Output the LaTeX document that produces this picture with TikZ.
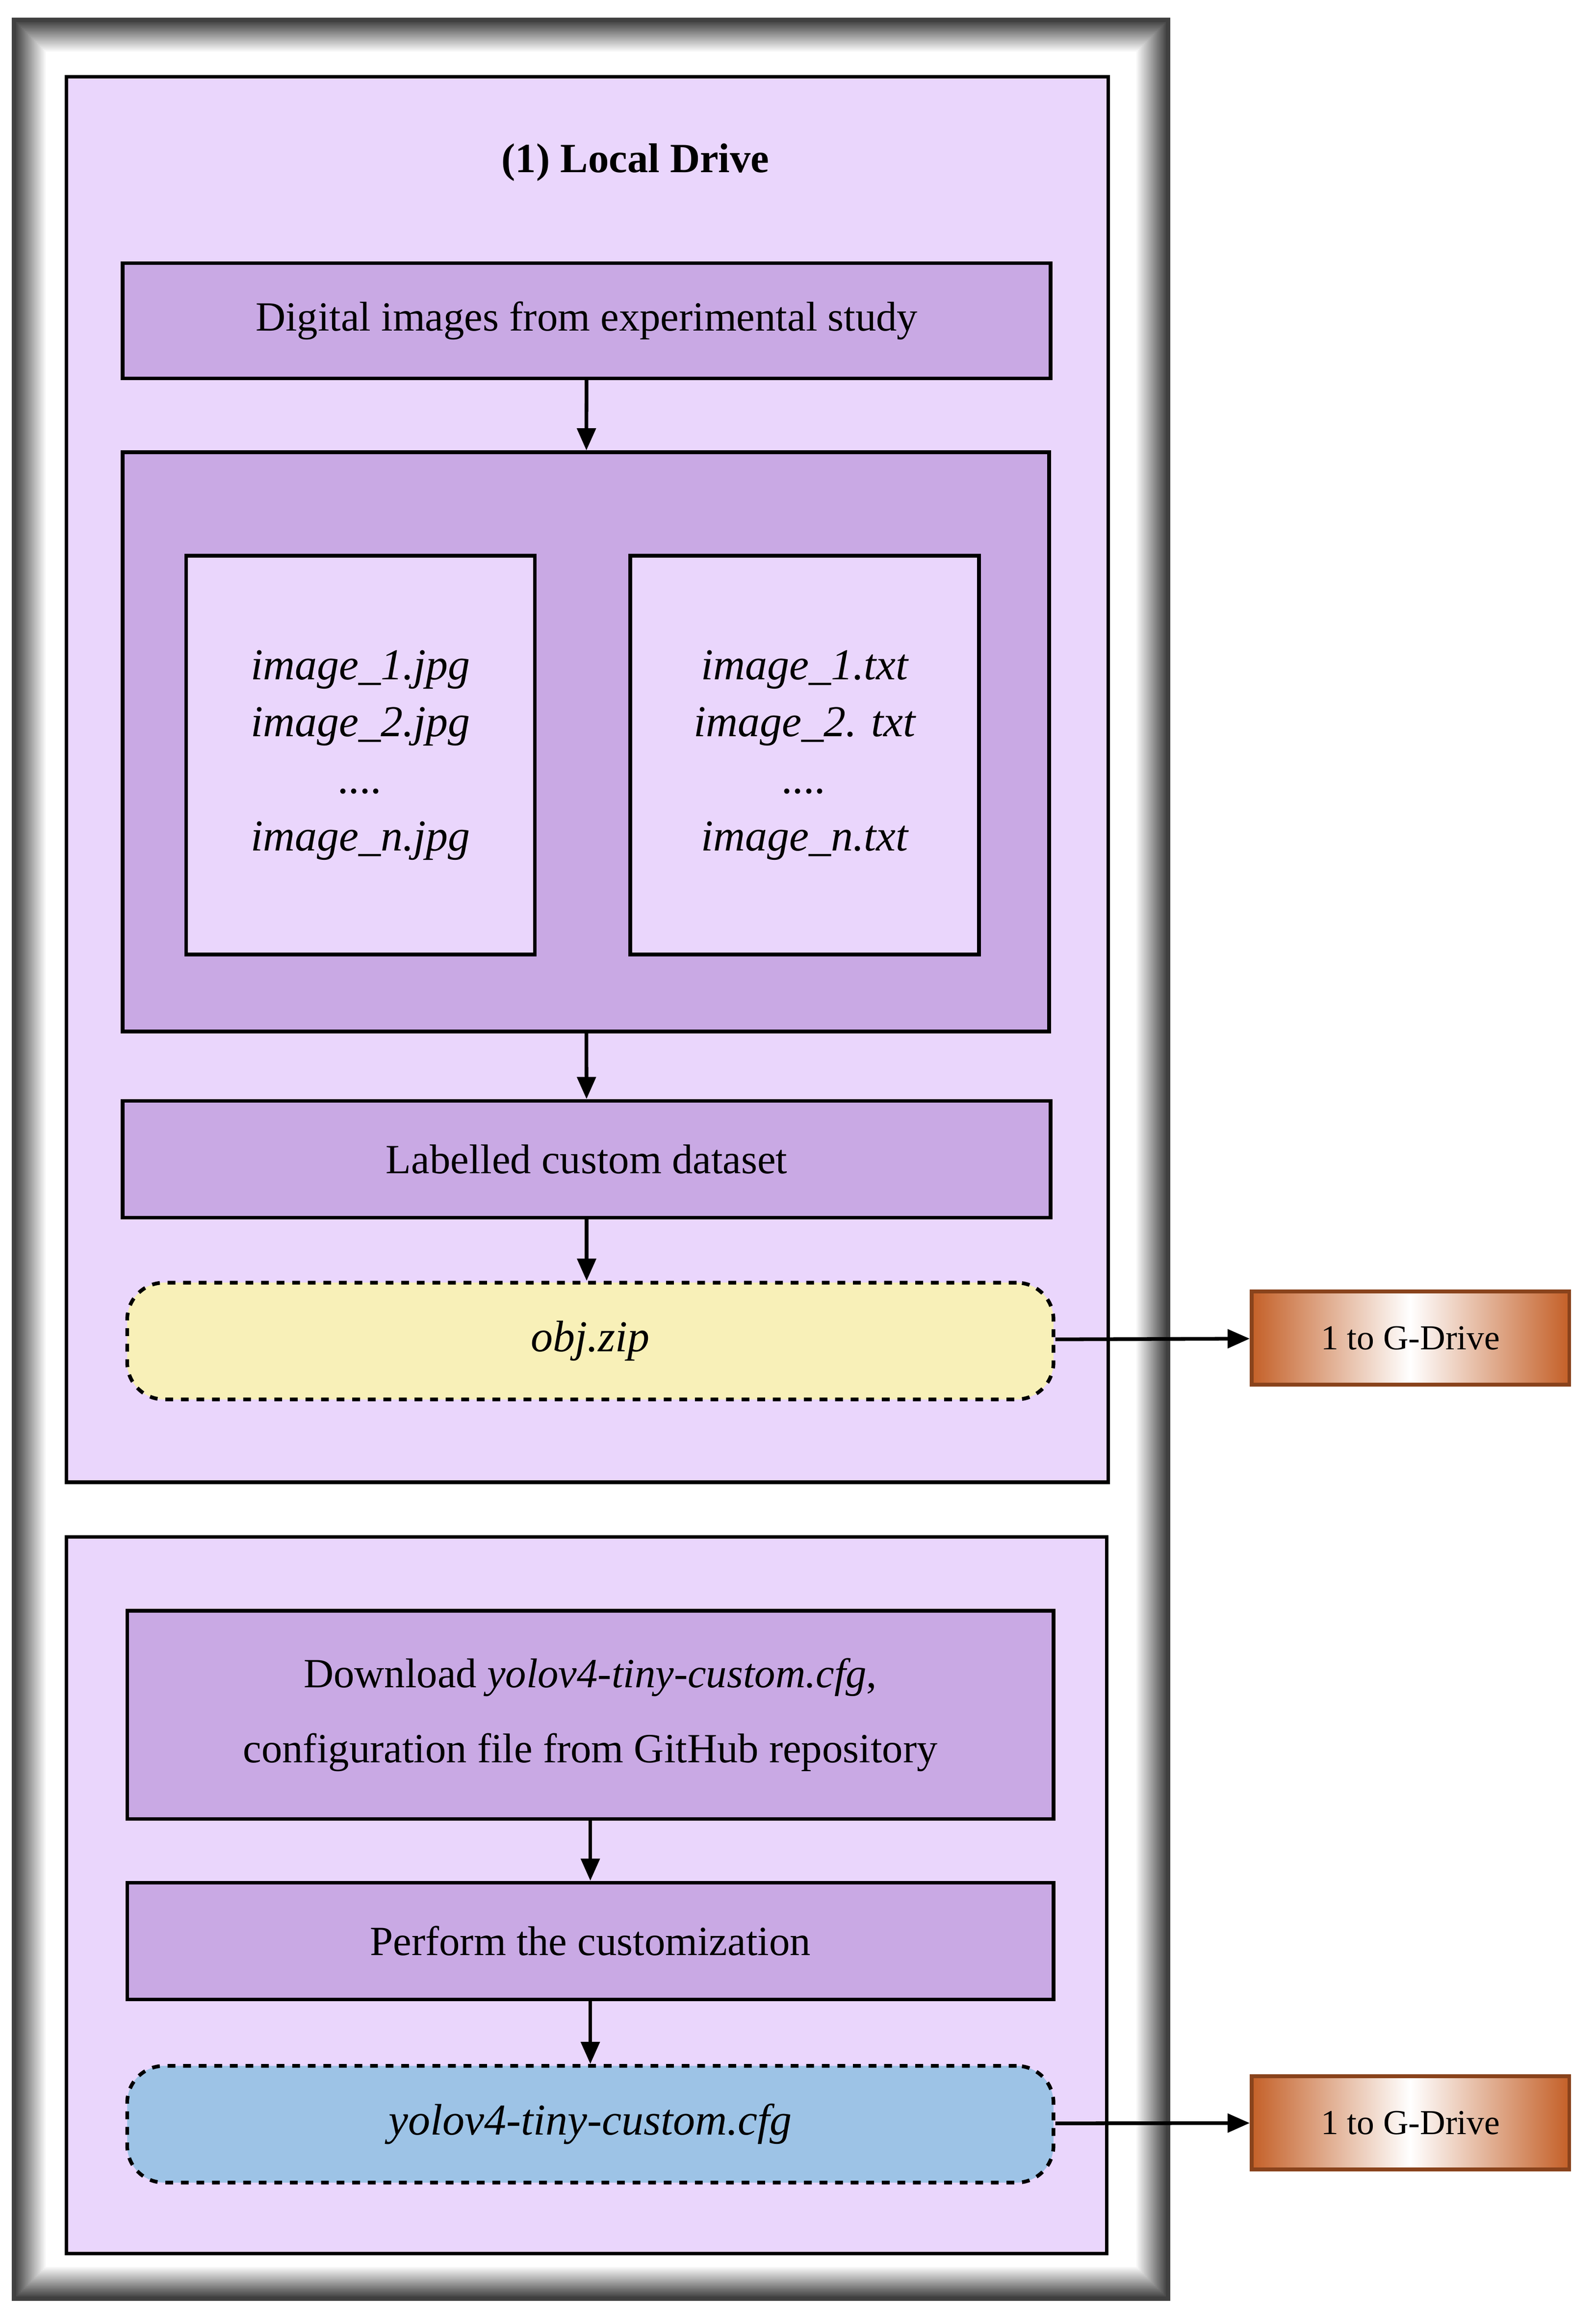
\documentclass[tikz,border=0pt]{standalone}
\usepackage{fontspec}
\setmainfont{Liberation Serif}
\usetikzlibrary{arrows.meta,calc}
\definecolor{panel}{RGB}{234,214,252}
\definecolor{boxfill}{RGB}{201,169,228}
\definecolor{zipfill}{RGB}{248,240,184}
\definecolor{cfgfill}{RGB}{157,195,230}
\definecolor{gdrive}{RGB}{196,96,40}
\tikzset{
  stage/.style={draw, fill=boxfill, line width=0.5mm, minimum width=12.56cm, minimum height=1.56cm, font=\fontsize{16}{22}\selectfont, align=center},
  files/.style={draw, fill=panel, line width=0.5mm, minimum width=4.72cm, minimum height=5.4cm, font=\fontsize{17}{22}\selectfont\itshape, align=center},
  result/.style={draw, dashed, rounded corners=0.5cm, line width=0.5mm, minimum width=12.54cm, minimum height=1.58cm, font=\fontsize{17}{22}\selectfont\itshape},
  gbox/.style={draw=gdrive!70!black, line width=0.5mm, left color=gdrive, right color=gdrive, middle color=white, minimum width=4.3cm, minimum height=1.26cm, font=\fontsize{13.5}{16}\selectfont},
  link/.style={-{Triangle[length=3mm,width=2.5mm]}, line width=0.5mm}
}
\begin{document}
\begin{tikzpicture}[x=0.02cm,y=-0.02cm]
    \useasboundingbox (0,0) rectangle (1080,1570);
    % outer frame
    \fill[black!75] (8,12) rectangle (792,1557);
    \foreach \i [evaluate=\i as \g using 70-3.5*\i] in {0,...,20} {
      \fill[black!\g] (11+\i,15+\i) rectangle (789-\i,1554-\i);
    }
    \fill[white] (32,36) rectangle (768,1533);
    % panels
    \draw[fill=panel, line width=0.5mm] (45,52) rectangle (750,1003);
    \draw[fill=panel, line width=0.5mm] (45,1040) rectangle (749,1525);
    \node[font=\fontsize{16}{20}\selectfont\bfseries] (title) at (430,110) {(1) Local Drive};
    % local drive
    \node[stage] (digital) at (397,217) {Digital images from experimental study};
    \node[stage, minimum width=12.54cm, minimum height=7.84cm] (data) at (396.5,502) {};
    \node[files] (jpg) at (244,511) {image\_1.jpg\\image\_2.jpg\\....\\image\_n.jpg};
    \node[files] (txt) at (544.5,511) {image\_1.txt\\image\_2. txt\\....\\image\_n.txt};
    \node[stage, minimum height=1.58cm] (label) at (397,784.5) {Labelled custom dataset};
    \node[result, fill=zipfill] (zip) at (399.5,907.5) {obj.zip};
    \node[gbox] (g1) at (954.5,905.5) {1 to G-Drive};
    % configuration
    \node[stage, minimum width=12.54cm, minimum height=2.82cm, font=\fontsize{16}{29}\selectfont] (download) at (399.5,1160.5) {Download \textit{yolov4-tiny-custom.cfg},\\configuration file from GitHub repository};
    \node[stage, minimum width=12.54cm, minimum height=1.58cm] (custom) at (399.5,1313.5) {Perform the customization};
    \node[result, fill=cfgfill] (cfg) at (399.5,1437.5) {yolov4-tiny-custom.cfg};
    \node[gbox] (g2) at (954.5,1436.5) {1 to G-Drive};
    % arrows
    \draw[link] (digital) -- (data);
    \draw[link] (data) -- (label);
    \draw[link] (label) -- (label|-zip.north);
    \draw[link] (zip) -- (g1);
    \draw[link] (download) -- (custom);
    \draw[link] (custom) -- (cfg);
    \draw[link] (cfg) -- (g2);
\end{tikzpicture}
\end{document}
